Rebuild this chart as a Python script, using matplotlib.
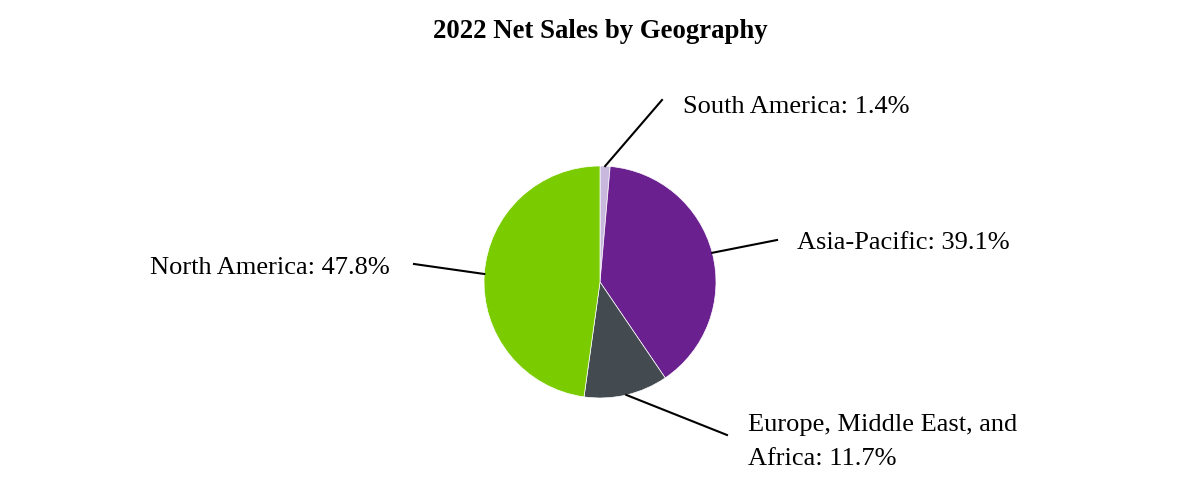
import matplotlib.pyplot as plt
import numpy as np

regions = ["South America", "Asia-Pacific", "Europe, Middle East, and\nAfrica", "North America"]
shares = [1.4, 39.1, 11.7, 47.8]
colors = ["#c9b8dd", "#6b2090", "#434a50", "#7acc00"]

plt.rcParams['font.family'] = ['Liberation Serif', 'DejaVu Serif']

fig = plt.figure(figsize=(12, 5), dpi=100)
ax = fig.add_axes([0, 0, 1, 1])
cx, cy, r = 600, 218, 116
wedges, _ = ax.pie(shares, colors=colors, startangle=90, counterclock=False,
                   center=(cx, cy), radius=r,
                   wedgeprops=dict(linewidth=0.5, edgecolor='white'))
ax.set_xlim(0, 1200)
ax.set_ylim(0, 500)
ax.set_aspect('equal')
ax.axis('off')

# where each leader line ends and where its label sits
line_ends = [(662, 400), (777, 260), (727, 65), (414, 236)]
text_pos = [(683, 393, 'left'), (797, 257, 'left'), (748, 58, 'left'), (390, 232, 'right')]

for w, name, val, end, tp in zip(wedges, regions, shares, line_ends, text_pos):
    ang = np.deg2rad((w.theta1 + w.theta2) / 2)
    sx, sy = cx + r * np.cos(ang), cy + r * np.sin(ang)
    ax.plot([sx, end[0]], [sy, end[1]], color='black', lw=1.5)
    ax.text(tp[0], tp[1], f"{name}: {val}%", ha=tp[2], va='center',
            fontsize=19, linespacing=1.75)

fig.text(0.5, 1 - 31 / 500, "2022 Net Sales by Geography", ha='center', va='center',
         fontsize=19.3, fontweight='bold')

fig.savefig("out.png", dpi=100)
